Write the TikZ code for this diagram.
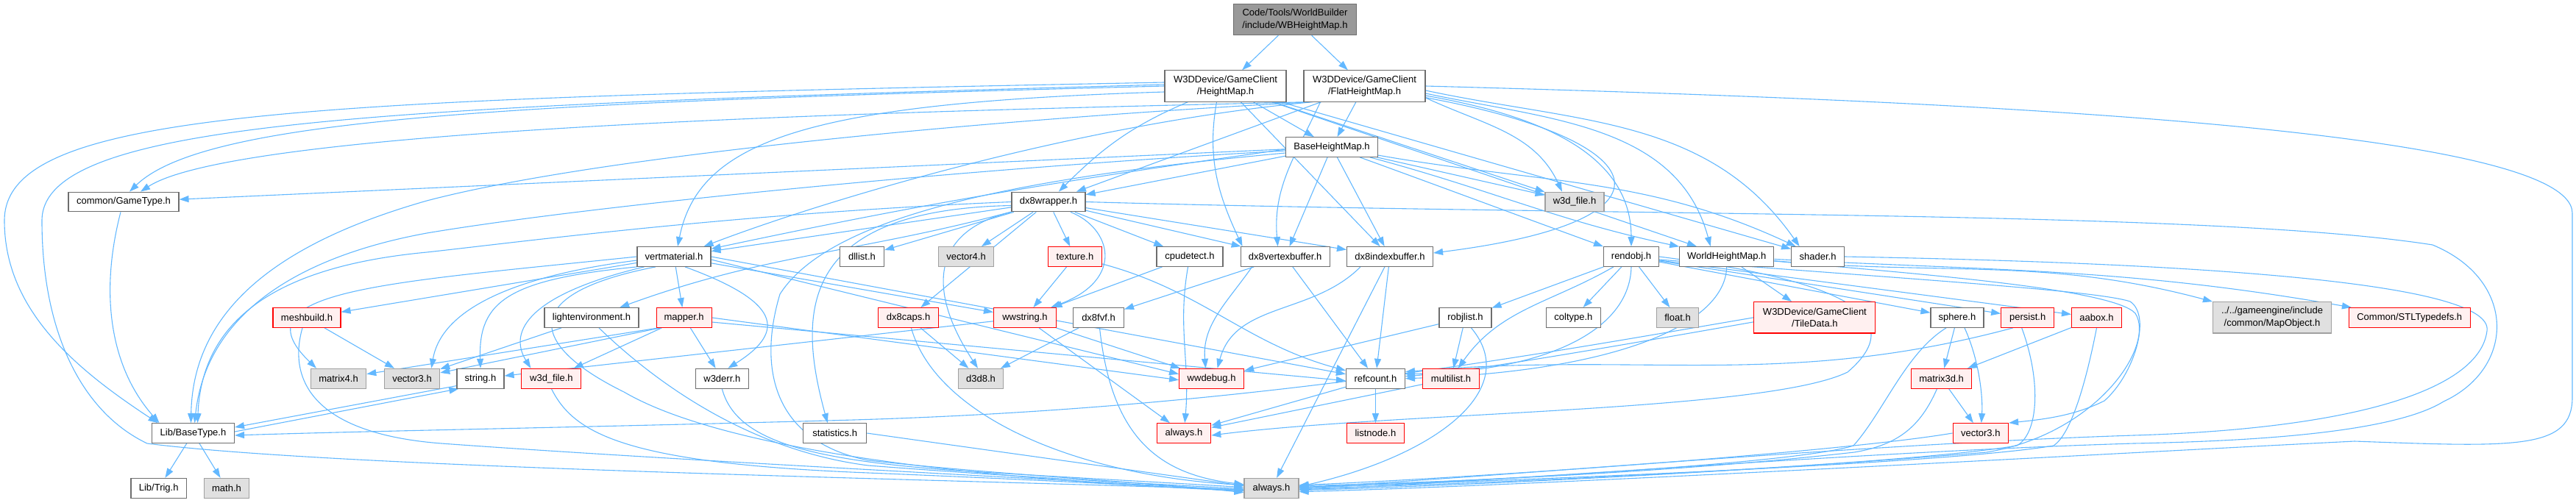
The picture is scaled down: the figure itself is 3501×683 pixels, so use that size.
\documentclass[tikz,border=0pt]{standalone}
\usepackage{fontspec}
\setmainfont{Liberation Sans}
\usetikzlibrary{arrows.meta, backgrounds}
\definecolor{DoxEdge}{RGB}{99,184,255}
\definecolor{DoxLine}{RGB}{110,110,110}
\definecolor{DoxRoot}{RGB}{153,153,153}
\definecolor{DoxExt}{RGB}{224,224,224}
\definecolor{DoxExtLine}{RGB}{160,160,160}
\definecolor{DoxTrunc}{RGB}{255,240,240}
\definecolor{DoxRed}{RGB}{255,0,0}

\begin{document}
\begin{tikzpicture}[x=1pt, y=1pt,
    file/.style={rectangle, draw=DoxLine, fill=white, line width=1.1pt,
                 inner sep=0pt, minimum height=26.7pt, align=center,
                 font=\fontsize{13}{16.5}\selectfont},
    twoline/.style={minimum height=42.3pt},
    rootfile/.style={file, twoline, fill=DoxRoot},
    extfile/.style={file, draw=DoxExtLine, fill=DoxExt},
    redfile/.style={file, draw=DoxRed, fill=DoxTrunc},
    edge/.style={draw=DoxEdge, line width=1.1pt,
                 -{Triangle[length=13pt,width=9pt]}}
  ]
  \useasboundingbox (0,0) rectangle (3501,-683);

  % top of the graph
  \node[rootfile, minimum width=167pt] (root) at (1760,-26.5)
        {Code/Tools/WorldBuilder\\/include/WBHeightMap.h};
  \node[file, twoline, minimum width=165pt] (hmap) at (1665.5,-117)
        {W3DDevice/GameClient\\/HeightMap.h};
  \node[file, twoline, minimum width=165pt] (flat) at (1854.5,-117)
        {W3DDevice/GameClient\\/FlatHeightMap.h};
  \node[file, minimum width=125pt] (base) at (1810,-200) {BaseHeightMap.h};

  % row 4
  \node[file, minimum width=150pt] (gtype) at (168,-274.5) {common/GameType.h};
  \node[file, minimum width=100pt] (dxwrap) at (1425,-274.5) {dx8wrapper.h};
  \node[extfile, minimum width=80pt] (wfileg) at (2140,-274.5) {w3d\_file.h};

  % row 5
  \node[file, minimum width=100pt] (vmat) at (916,-349) {vertmaterial.h};
  \node[file, minimum width=60pt] (dllist) at (1171.5,-349) {dllist.h};
  \node[extfile, minimum width=75pt] (vecfour) at (1313,-349) {vector4.h};
  \node[redfile, minimum width=73pt] (texture) at (1461,-349) {texture.h};
  \node[file, minimum width=90pt] (cpudet) at (1617,-349) {cpudetect.h};
  \node[file, minimum width=121pt] (dxvb) at (1746.6,-349) {dx8vertexbuffer.h};
  \node[file, minimum width=117pt] (dxib) at (1889,-349) {dx8indexbuffer.h};
  \node[file, minimum width=75pt] (rendobj) at (2217,-349) {rendobj.h};
  \node[file, minimum width=128pt] (whmap) at (2346.7,-349) {WorldHeightMap.h};
  \node[file, minimum width=72pt] (shader) at (2470.6,-349) {shader.h};

  % row 6
  \node[redfile, minimum width=92pt] (meshb) at (417,-432) {meshbuild.h};
  \node[file, minimum width=128pt] (lightenv) at (804,-432) {lightenvironment.h};
  \node[redfile, minimum width=75pt] (mapper) at (929.6,-432) {mapper.h};
  \node[redfile, minimum width=82pt] (dxcaps) at (1234.6,-432) {dx8caps.h};
  \node[redfile, minimum width=85pt] (wwstr) at (1393,-432) {wwstring.h};
  \node[file, minimum width=69pt] (dxfvf) at (1493,-432) {dx8fvf.h};
  \node[file, minimum width=71pt] (robjl) at (1991.5,-432) {robjlist.h};
  \node[file, minimum width=74pt] (coltype) at (2138.4,-432) {coltype.h};
  \node[extfile, minimum width=57pt] (floath) at (2280,-432) {float.h};
  \node[redfile, twoline, minimum width=165pt] (tiled) at (2466.4,-431.8)
        {W3DDevice/GameClient\\/TileData.h};
  \node[file, minimum width=72pt] (sphere) at (2660,-432) {sphere.h};
  \node[redfile, minimum width=72pt] (persist) at (2755.7,-432) {persist.h};
  \node[redfile, minimum width=68pt] (aabox) at (2849.5,-432) {aabox.h};
  \node[extfile, twoline, minimum width=161pt] (mapobj) at (3088,-431.8)
        {../../gameengine/include\\/common/MapObject.h};
  \node[redfile, minimum width=165pt] (stl) at (3274.7,-432) {Common/STLTypedefs.h};

  % row 7
  \node[extfile, minimum width=75.5pt] (matfour) at (460,-514.7) {matrix4.h};
  \node[extfile, minimum width=75.5pt] (vecthg) at (560,-514.7) {vector3.h};
  \node[file, minimum width=64pt] (stringh) at (653,-514.7) {string.h};
  \node[redfile, minimum width=81pt] (wfiler) at (749.4,-514.7) {w3d\_file.h};
  \node[file, minimum width=72pt] (werr) at (981.3,-514.7) {w3derr.h};
  \node[extfile, minimum width=61pt] (dthree) at (1333,-514.7) {d3d8.h};
  \node[redfile, minimum width=88pt] (wwdbg) at (1646.6,-514.7) {wwdebug.h};
  \node[file, minimum width=80pt] (refc) at (1869.4,-514.7) {refcount.h};
  \node[redfile, minimum width=77pt] (mlist) at (1972,-514.7) {multilist.h};
  \node[redfile, minimum width=82pt] (mthreed) at (2638.6,-514.7) {matrix3d.h};

  % row 8
  \node[file, minimum width=112pt] (btype) at (262.5,-589) {Lib/BaseType.h};
  \node[file, minimum width=86pt] (stats) at (1134.7,-589) {statistics.h};
  \node[redfile, minimum width=73.5pt] (alwr) at (1609,-589) {always.h};
  \node[redfile, minimum width=78pt] (listn) at (1869.4,-589) {listnode.h};
  \node[redfile, minimum width=75.5pt] (vecthr) at (2691.8,-589) {vector3.h};

  % row 9
  \node[file, minimum width=75.5pt] (trig) at (215.7,-663.7) {Lib/Trig.h};
  \node[extfile, minimum width=61pt] (mathh) at (308,-663.7) {math.h};
  \node[extfile, minimum width=74pt] (alwg) at (1728,-663.7) {always.h};

  \begin{scope}[on background layer]
    % root
    \draw[edge] (root) -- (hmap);
    \draw[edge] (root) -- (flat);

    % HeightMap.h
    \draw[edge] (hmap) -- (base);
    \draw[edge] (hmap) to[out=-157,in=45] (dxwrap);
    \draw[edge] ([xshift=-12pt]hmap.south) to[out=-100,in=115] ([xshift=3pt]dxvb.north west);
    \draw[edge] (hmap) -- (dxib);
    \draw[edge] (hmap) -- (wfileg);
    \draw[edge] (hmap) -- (shader);
    \draw[edge] (hmap) -- (whmap);
    \draw[edge] ([yshift=-8pt]hmap.west) .. controls (1100,-140) and (950,-190) .. ([xshift=5pt]vmat.north);
    \draw[edge] (hmap.west) .. controls (700,-140) and (280,-160) .. ([xshift=8pt]gtype.north);
    \draw[edge] ([yshift=5pt]hmap.west) .. controls (400,-135) and (6,-150) .. (6,-300)
                .. controls (6,-420) and (100,-500) .. ([xshift=-48pt]btype.north);
    \draw[edge] ([yshift=2pt]hmap.west) .. controls (500,-145) and (57,-165) .. (57,-300)
                .. controls (57,-450) and (110,-560) .. (200,-603)
                .. controls (450,-635) and (1200,-650) .. ([yshift=-2pt]alwg.west);

    % FlatHeightMap.h
    \draw[edge] (flat) -- (base);
    \draw[edge] (flat) -- (dxwrap);
    \draw[edge] ([xshift=-60pt]flat.south) to[out=-115,in=95] ([xshift=-10pt]dxvb.north);
    \draw[edge] ([yshift=6pt]flat.south east) .. controls (2250,-190) and (2300,-300) .. ([yshift=5pt]dxib.east);
    \draw[edge] ([yshift=-16pt]flat.east) to[out=-25,in=115] ([xshift=-17pt]wfileg.north);
    \draw[edge] ([yshift=-13pt]flat.east) to[out=-10,in=90] (rendobj.north);
    \draw[edge] ([yshift=-10pt]flat.east) to[out=-12,in=105] ([xshift=-22pt]whmap.north);
    \draw[edge] ([yshift=-6pt]flat.east) to[out=-12,in=125] ([xshift=-25pt]shader.north);
    \draw[edge] ([xshift=4pt]flat.south west) .. controls (1300,-150) and (330,-170) .. ([xshift=23pt]gtype.north);
    \draw[edge] ([xshift=8pt]flat.south west) .. controls (1300,-165) and (800,-215) .. (580,-273)
                .. controls (380,-330) and (262,-420) .. ([xshift=-3pt]btype.north);
    \draw[edge] ([xshift=12pt]flat.south west) .. controls (1450,-170) and (1100,-280) .. ([xshift=-10pt]vmat.north east);
    \draw[edge] (flat.east) .. controls (2600,-135) and (3496,-170) .. (3496,-290) -- (3496,-540)
                .. controls (3496,-612) and (3420,-608) .. (3200,-600)
                .. controls (2900,-615) and (2100,-660) .. ([yshift=-5pt]alwg.east);

    % BaseHeightMap.h
    \draw[edge] (base) -- (dxwrap);
    \draw[edge] (base) -- (dxvb);
    \draw[edge] (base) -- (dxib);
    \draw[edge] (base) -- (wfileg);
    \draw[edge] (base) -- (gtype);
    \draw[edge] (base) to[out=-20,in=160] (rendobj);
    \draw[edge] (base) to[out=-15,in=168] (whmap);
    \draw[edge] (base) to[out=-10,in=155] (shader);
    \draw[edge] ([yshift=-3pt]base.west) to[out=188,in=12] (vmat);
    \draw[edge] ([yshift=-5pt]base.west) .. controls (1300,-230) and (800,-280) .. (580,-317)
                .. controls (400,-350) and (280,-430) .. ([xshift=2pt]btype.north);
    \draw[edge] ([yshift=-8pt]base.west) .. controls (1400,-240) and (1130,-290) .. (1060,-400)
                .. controls (1030,-500) and (1050,-600) .. (1180,-626)
                .. controls (1350,-645) and (1550,-655) .. ([yshift=-6pt]alwg.west);

    % dx8wrapper.h
    \draw[edge] (dxwrap) -- (vmat);
    \draw[edge] (dxwrap) -- (dllist);
    \draw[edge] (dxwrap) -- (vecfour);
    \draw[edge] (dxwrap) -- (texture);
    \draw[edge] (dxwrap) -- (cpudet);
    \draw[edge] (dxwrap) -- (dxvb);
    \draw[edge] (dxwrap) -- (dxib);
    \draw[edge] (dxwrap) -- (dxcaps);
    \draw[edge] (dxwrap) to[out=-165,in=20] (lightenv);
    \draw[edge] (dxwrap.west) .. controls (1000,-290) and (700,-330) .. (580,-343)
                .. controls (400,-360) and (275,-420) .. ([xshift=6pt]btype.north);
    \draw[edge] (dxwrap.south west) .. controls (1280,-310) and (1250,-380) .. ([xshift=-4pt]dthree.north);
    \draw[edge] ([xshift=30pt]dxwrap.south) .. controls (1510,-310) and (1530,-380) .. ([xshift=-8pt]wwstr.north east);
    \draw[edge] ([yshift=-5pt]dxwrap.west) .. controls (1080,-285) and (1085,-430) .. ([xshift=-10pt]stats.north);
    \draw[edge] (dxwrap.east) .. controls (2200,-295) and (3000,-285) .. (3306,-333)
                .. controls (3420,-380) and (3420,-500) .. (3321,-546)
                .. controls (3250,-590) and (3050,-600) .. (2900,-603)
                .. controls (2500,-615) and (2000,-658) .. ([yshift=-2pt]alwg.east);

    % shader.h
    \draw[edge] (shader.east) .. controls (3000,-358) and (3390,-385) .. (3380,-450)
                .. controls (3370,-530) and (3200,-583) .. (2900,-592)
                .. controls (2500,-605) and (2000,-652) .. ([yshift=1pt]alwg.east);

    % vertmaterial.h
    \draw[edge] (vmat) -- (meshb);
    \draw[edge] (vmat) -- (mapper);
    \draw[edge] (vmat) -- (wwstr);
    \draw[edge] (vmat.east) -- ([yshift=6pt]refc.west);
    \draw[edge] ([yshift=-4pt]vmat.east) -- ([yshift=6pt]wwdbg.west);
    \draw[edge] (vmat.west) .. controls (520,-385) and (320,-395) .. ([xshift=-30pt]matfour.north);
    \draw[edge] ([yshift=-5pt]vmat.west) .. controls (700,-375) and (600,-420) .. ([xshift=-12pt]vecthg.north east);
    \draw[edge] (vmat.south west) .. controls (690,-380) and (650,-410) .. (stringh.north);
    \draw[edge] ([xshift=10pt]vmat.south west) .. controls (720,-400) and (690,-450) .. ([xshift=-28pt]wfiler.north);
    \draw[edge] ([xshift=-25pt]vmat.south) .. controls (700,-400) and (720,-470) .. (848,-533)
                .. controls (980,-610) and (1300,-650) .. ([yshift=-4pt]alwg.west);
    \draw[edge] ([xshift=15pt]vmat.south) .. controls (1060,-410) and (1070,-450) .. ([xshift=8pt]werr.north);

    % lightenvironment.h, meshbuild.h, mapper.h
    \draw[edge] (lightenv) -- (vecthg);
    \draw[edge] ([xshift=10pt]lightenv.south) .. controls (870,-500) and (1000,-610) .. (1180,-633)
                .. controls (1400,-650) and (1550,-657) .. ([yshift=-1pt]alwg.west);
    \draw[edge] (meshb) -- (vecthg);
    \draw[edge] ([xshift=-6pt]meshb.south) .. controls (390,-520) and (430,-590) .. (600,-603)
                .. controls (900,-625) and (1400,-650) .. ([yshift=-3pt]alwg.west);
    \draw[edge] ([xshift=3pt]mapper.south west) -- (matfour);
    \draw[edge] ([xshift=6pt]mapper.south west) -- (vecthg);
    \draw[edge] (mapper) -- (wfiler);
    \draw[edge] (mapper) -- (werr);
    \draw[edge] (mapper.east) -- ([yshift=-2pt]wwdbg.west);
    \draw[edge] ([yshift=-6pt]mapper.east) -- ([yshift=-3pt]refc.west);

    % w3d_file.h, w3derr.h, statistics.h
    \draw[edge] (wfiler.south) .. controls (780,-590) and (850,-630) .. (1180,-643)
                .. controls (1400,-652) and (1550,-660) .. ([yshift=-4pt]alwg.west);
    \draw[edge] (werr.south) .. controls (1000,-600) and (1100,-625) .. (1300,-640)
                .. controls (1500,-652) and (1600,-657) .. ([yshift=1pt]alwg.west);
    \draw[edge] (stats.east) to[out=-8,in=172] ([yshift=3pt]alwg.west);

    % string.h, Lib/BaseType.h, common/GameType.h
    \draw[edge] ([yshift=4pt]stringh.south west) -- ([yshift=8pt]btype.east);
    \draw[edge] ([yshift=2pt]btype.east) -- ([xshift=3pt]stringh.south west);
    \draw[edge] (btype) -- (trig);
    \draw[edge] (btype) -- (mathh);
    \draw[edge] ([xshift=-4pt]gtype.south) .. controls (135,-400) and (150,-500) .. ([xshift=-46pt]btype.north);

    % TileData.h
    \draw[edge] (tiled.west) .. controls (2100,-480) and (1700,-555) .. (1160,-571)
                .. controls (800,-581) and (500,-586) .. ([yshift=-3pt]btype.east);
    \draw[edge] ([yshift=-6pt]tiled.west) .. controls (2200,-470) and (2000,-505) .. ([yshift=3pt]refc.east);

    % WorldHeightMap.h
    \draw[edge] (whmap) -- (tiled);
    \draw[edge] (whmap) to[out=-5,in=165] (mapobj);
    \draw[edge] (whmap) to[out=-3,in=170] (stl);
    \draw[edge] (whmap.south) .. controls (2345,-440) and (2200,-505) .. (refc.east);
    \draw[edge] ([yshift=-6pt]whmap.east) .. controls (2600,-372) and (2870,-392) .. (2902,-426)
                .. controls (2930,-470) and (2850,-590) .. (2700,-615)
                .. controls (2400,-640) and (2000,-660) .. ([yshift=-3pt]alwg.east);

    % rendobj.h
    \draw[edge] (rendobj) -- (robjl);
    \draw[edge] (rendobj) -- (coltype);
    \draw[edge] (rendobj) -- (floath);
    \draw[edge] (rendobj) -- (sphere);
    \draw[edge] (rendobj) -- (persist);
    \draw[edge] (rendobj) -- (aabox);
    \draw[edge] (rendobj) to[out=-150,in=55] (mlist);
    \draw[edge] (rendobj.south) .. controls (2215,-450) and (2100,-505) .. ([yshift=6pt]refc.east);
    \draw[edge] (rendobj.east) .. controls (2500,-380) and (2600,-430) .. (2511,-506)
                .. controls (2400,-560) and (1900,-560) .. ([yshift=-3pt]alwr.east);
    \draw[edge] ([yshift=-4pt]rendobj.east) .. controls (2600,-380) and (2850,-395) .. (2895,-410)
                .. controls (2925,-430) and (2900,-510) .. (2860,-545)
                .. controls (2820,-565) and (2780,-570) .. (vecthr.north east);

    % robjlist.h, refcount.h, multilist.h
    \draw[edge] (robjl) -- (mlist);
    \draw[edge] (robjl) -- (wwdbg);
    \draw[edge] ([xshift=8pt]robjl.south) .. controls (2070,-530) and (1950,-620) .. ([yshift=2pt]alwg.east);
    \draw[edge] (refc) -- (listn);
    \draw[edge] (refc) -- (alwr);
    \draw[edge] (mlist) -- (alwr);

    % vertex and index buffers
    \draw[edge] (dxvb) -- (dxfvf);
    \draw[edge] (dxvb) -- (refc);
    \draw[edge] ([xshift=-45pt]dxvb.south) to[out=-125,in=95] ([xshift=-8pt]wwdbg.north);
    \draw[edge] (dxib) -- (refc);
    \draw[edge] ([xshift=-40pt]dxib.south) to[out=-135,in=75] ([xshift=8pt]wwdbg.north);
    \draw[edge] (dxib) -- (alwg);

    % texture.h, cpudetect.h, wwstring.h, dx8caps.h, dx8fvf.h
    \draw[edge] (texture) -- (wwstr);
    \draw[edge] (texture) to[out=-15,in=165] (refc);
    \draw[edge] (cpudet) -- (wwstr);
    \draw[edge] (cpudet) to[out=-100,in=85] (alwr);
    \draw[edge] (wwstr) -- (stringh);
    \draw[edge] (wwstr) -- (alwr);
    \draw[edge] (wwstr) -- (wwdbg);
    \draw[edge] (dxcaps) -- (dthree);
    \draw[edge] (dxcaps) .. controls (1270,-560) and (1450,-645) .. ([yshift=4pt]alwg.west);
    \draw[edge] (dxfvf) -- (dthree);
    \draw[edge] (dxfvf) .. controls (1510,-590) and (1570,-645) .. ([yshift=5pt]alwg.west);

    % sphere.h, persist.h, aabox.h, matrix3d.h, vector3.h
    \draw[edge] (sphere) -- (mthreed);
    \draw[edge] ([xshift=10pt]sphere.south) .. controls (2690,-490) and (2695,-540) .. ([xshift=1pt]vecthr.north);
    \draw[edge] ([xshift=-15pt]sphere.south) .. controls (2590,-480) and (2560,-560) .. (2519,-606)
                .. controls (2450,-628) and (2100,-650) .. (alwg.east);
    \draw[edge] ([xshift=-20pt]persist.south) to[out=195,in=5] ([yshift=9pt]refc.east);
    \draw[edge] ([xshift=-8pt]persist.south) .. controls (2775,-520) and (2770,-590) .. (2741,-606)
                .. controls (2600,-630) and (2100,-655) .. ([yshift=-1pt]alwg.east);
    \draw[edge] (aabox) -- (mthreed);
    \draw[edge] (aabox.south) .. controls (2835,-520) and (2815,-590) .. (2791,-606)
                .. controls (2650,-630) and (2100,-652) .. ([yshift=1pt]alwg.east);
    \draw[edge] (mthreed) -- (vecthr);
    \draw[edge] ([xshift=-6pt]mthreed.south) .. controls (2610,-580) and (2580,-605) .. (2520,-615)
                .. controls (2300,-640) and (2000,-655) .. ([yshift=3pt]alwg.east);
    \draw[edge] (vecthr.west) .. controls (2500,-615) and (2000,-650) .. ([yshift=4pt]alwg.east);
  \end{scope}
\end{tikzpicture}
\end{document}
